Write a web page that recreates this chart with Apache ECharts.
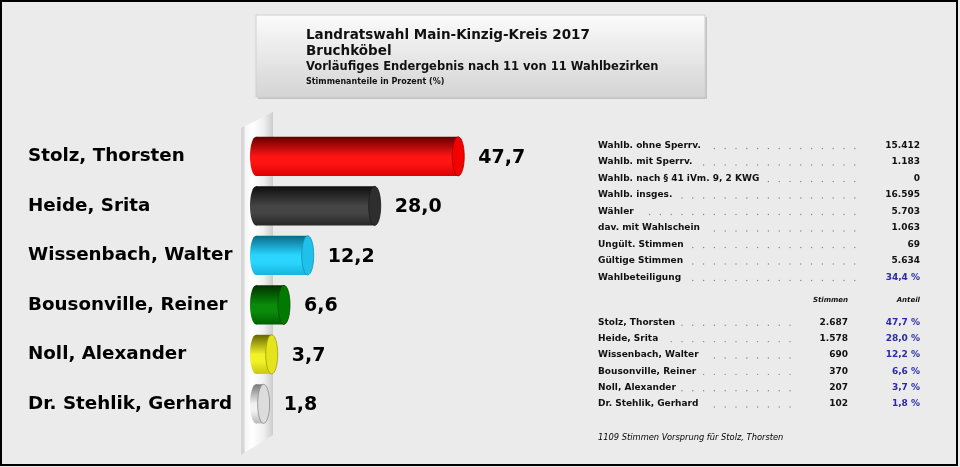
<!DOCTYPE html>
<html><head><meta charset="utf-8">
<script src="https://cdn.jsdelivr.net/npm/echarts@6/dist/echarts.min.js"></script>
<style>html,body{margin:0;padding:0;background:#ebebeb}#c{width:960px;height:467px}</style>
</head><body><div id="c"></div>
<script>
const candidates = ['Stolz, Thorsten','Heide, Srita','Wissenbach, Walter','Bousonville, Reiner','Noll, Alexander','Dr. Stehlik, Gerhard'];
const shares = [47.7, 28.0, 12.2, 6.6, 3.7, 1.8];
const votes = ['2.687','1.578','690','370','207','102'];
const shareLabels = ['47,7 %','28,0 %','12,2 %','6,6 %','3,7 %','1,8 %'];
const statLabels = ['Wahlb. ohne Sperrv.','Wahlb. mit Sperrv.','Wahlb. nach § 41 iVm. 9, 2 KWG','Wahlb. insges.','Wähler','dav. mit Wahlschein','Ungült. Stimmen','Gültige Stimmen','Wahlbeteiligung'];
const statValues = ['15.412','1.183','0','16.595','5.703','1.063','69','5.634','34,4 %'];
const titleLines = ['Landratswahl Main-Kinzig-Kreis 2017','Bruchköbel','Vorläufiges Endergebnis nach 11 von 11 Wahlbezirken','Stimmenanteile in Prozent (%)'];
const footer = '1109 Stimmen Vorsprung für Stolz, Thorsten';

const barColors = [
  {top:'#640000', mid:'#ff1414', bot:'#dc0000', cap:'#f40000', edge:'#a00000'},
  {top:'#0e0e0e', mid:'#454545', bot:'#262626', cap:'#2e2e2e', edge:'#1a1a1a'},
  {top:'#0a6a8a', mid:'#2ad6ff', bot:'#16b4de', cap:'#1fc0ea', edge:'#1090b8'},
  {top:'#003000', mid:'#0a8c0a', bot:'#005e00', cap:'#007a00', edge:'#004a00'},
  {top:'#666600', mid:'#f2f22a', bot:'#c8c810', cap:'#e4e41e', edge:'#a0a000'},
  {top:'#777777', mid:'#f2f2f2', bot:'#b8b8b8', cap:'#dcdcdc', edge:'#8a8a8a'}
];

const FONT = '"DejaVu Sans", Verdana, sans-serif';
const cv = document.createElement('canvas').getContext('2d');
function tw(t, f){ cv.font = f; return cv.measureText(t).width; }

const graphics = [];
graphics.push({type:'rect', shape:{x:1,y:1,width:956,height:464}, style:{fill:'none', stroke:'#000', lineWidth:2}, z:100});
graphics.push({type:'rect', shape:{x:258,y:17,width:449,height:82}, style:{fill:'#c4c4c4'}, z:-2});
graphics.push({type:'rect', shape:{x:256,y:15,width:449,height:82}, style:{fill:{type:'linear',x:0,y:0,x2:0,y2:1,colorStops:[{offset:0,color:'#fbfbfb'},{offset:1,color:'#d4d4d4'}]}, stroke:'#d0d0d0', lineWidth:1}, z:-1});
const tSizes = [13.5, 13.5, 11.5, 8];
const tY = [35, 51, 67, 82];
titleLines.forEach((t,i)=>graphics.push({type:'text', x:306, y:tY[i], style:{text:t, font:'bold '+tSizes[i]+'px '+FONT, fill:'#111', textVerticalAlign:'middle'}}));
graphics.push({type:'polygon', shape:{points:[[241,128],[273,112],[273,435],[241,455]]}, style:{fill:{type:'linear',x:0,y:0,x2:1,y2:0,colorStops:[{offset:0,color:'#f0f0f0'},{offset:0.35,color:'#ffffff'},{offset:0.7,color:'#f0f0f0'},{offset:1,color:'#cccccc'}]}}, z:-1});
graphics.push({type:'polygon', shape:{points:[[241,128],[244.5,126.3],[244.5,452.8],[241,455]]}, style:{fill:'#d6d6d6'}, z:-1});

const sFont = 'bold 9px ' + FONT;
const statY0 = 145.5, statStep = 16.5;
function dots(xFrom, xTo, y){
  for (let x = 628; x <= xTo; x += 10.8) {
    if (x > xFrom) graphics.push({type:'circle', shape:{cx:x, cy:y, r:0.7}, style:{fill:'#888'}});
  }
}
statLabels.forEach((t,i)=>{
  const y = statY0 + i*statStep;
  graphics.push({type:'text', x:598, y:y, style:{text:t, font:sFont, fill:'#111', textVerticalAlign:'middle'}});
  graphics.push({type:'text', x:920, y:y, style:{text:statValues[i], font:sFont, fill: i===statLabels.length-1 ? '#2a2aa8' : '#111', textAlign:'right', textVerticalAlign:'middle'}});
  dots(598 + tw(t, sFont) + 6, 858, y + 3);
});
graphics.push({type:'text', x:848, y:300.5, style:{text:'Stimmen', font:'italic bold 7px '+FONT, fill:'#111', textAlign:'right', textVerticalAlign:'middle'}});
graphics.push({type:'text', x:920, y:300.5, style:{text:'Anteil', font:'italic bold 7px '+FONT, fill:'#111', textAlign:'right', textVerticalAlign:'middle'}});
const cY0 = 322.3, cStep = 16.35;
candidates.forEach((t,i)=>{
  const y = cY0 + i*cStep;
  graphics.push({type:'text', x:598, y:y, style:{text:t, font:sFont, fill:'#111', textVerticalAlign:'middle'}});
  graphics.push({type:'text', x:848, y:y, style:{text:votes[i], font:sFont, fill:'#111', textAlign:'right', textVerticalAlign:'middle'}});
  graphics.push({type:'text', x:920, y:y, style:{text:shareLabels[i], font:sFont, fill:'#2a2aa8', textAlign:'right', textVerticalAlign:'middle'}});
  dots(598 + tw(t, sFont) + 6, 795, y + 3);
});
graphics.push({type:'text', x:598, y:437.7, style:{text:footer, font:'italic 8.3px '+FONT, fill:'#000', textVerticalAlign:'middle'}});

const chart = echarts.init(document.getElementById('c'), null, {renderer:'canvas'});
chart.setOption({
  backgroundColor:'#ebebeb',
  animation:false,
  grid:{left:262, top:131.6, width:424, height:297, containLabel:false},
  xAxis:{type:'value', min:0, max:100, show:false},
  yAxis:{type:'category', data:candidates, inverse:true,
    axisLine:{show:false}, axisTick:{show:false}, splitLine:{show:false},
    axisLabel:{align:'left', margin:234, fontFamily:FONT, fontWeight:'bold', fontSize:18.3, color:'#000', padding:[7,0,0,0]}},
  graphic:graphics,
  series:[{
    type:'custom',
    data: shares.map((v,i)=>[v,i]),
    encode:{x:0, y:1},
    renderItem:function(params, api){
      const v = api.value(0), idx = api.value(1);
      const p0 = api.coord([0, idx]);
      const p1 = api.coord([v, idx]);
      const band = api.size([0,1])[1];
      const h = band*0.79, cy = p0[1], top = cy - h/2;
      const rx = 6, left = p0[0] - 12, end = p1[0];
      const c = barColors[idx];
      const grad = {type:'linear',x:0,y:0,x2:0,y2:1,colorStops:[{offset:0,color:c.top},{offset:0.5,color:c.mid},{offset:0.68,color:c.mid},{offset:1,color:c.bot}]};
      const bodyW = Math.max(0, (end - rx) - (left + rx));
      return {type:'group', children:[
        {type:'ellipse', shape:{cx:left+rx, cy:cy, rx:rx, ry:h/2}, style:{fill:grad}},
        {type:'rect', shape:{x:left+rx, y:top, width:bodyW, height:h}, style:{fill:grad}},
        {type:'ellipse', shape:{cx:end-rx, cy:cy, rx:rx, ry:h/2}, style:{fill:c.cap, stroke:c.edge, lineWidth:0.8}},
        {type:'text', x:end+14, y:cy+1.5, style:{text:v.toFixed(1).replace('.',','), font:'bold 19px '+FONT, fill:'#000', textVerticalAlign:'middle'}}
      ]};
    }
  }]
});
</script></body></html>
